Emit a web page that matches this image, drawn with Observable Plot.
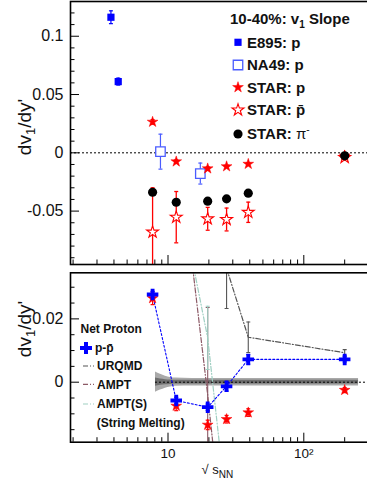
<!DOCTYPE html>
<html><head><meta charset="utf-8">
<script src="https://cdn.jsdelivr.net/npm/d3@7"></script>
<script src="https://cdn.jsdelivr.net/npm/@observablehq/plot@0.6"></script>
<style>
html,body{margin:0;padding:0;overflow:hidden;background:#fff;}
#c{position:relative;width:372px;height:482px;overflow:hidden;}
#c svg{position:absolute;left:0;}
</style>
</head><body><div id="c"></div>
<script>
// ---------- data ----------
const starX = [7.7, 11.5, 19.6, 27, 39, 200];
const e895X = [3.8, 4.3];
const e895Y = [0.1163, 0.0611];
const e895Err = [0.0055, 0.003];
const na49X = [8.8, 17.3];
const na49Y = [0.001, -0.0178];
const na49Err = [0.015, 0.009];
const starPY = [0.0265, -0.0075, -0.0135, -0.0117, -0.0096, -0.0025];
const starPErr = [0.002, 0.0015, 0.0015, 0.0012, 0.0012, 0.0008];
const starPbarY = [-0.068, -0.0552, -0.0566, -0.0572, -0.051, -0.004];
const starPbarErr = [0.038, 0.022, 0.0098, 0.0098, 0.0087, 0.002];
const starPiY = [-0.0338, -0.0424, -0.0415, -0.0395, -0.0346, -0.0026];
const netPY = [0.0277, -0.0058, -0.0079, -0.0013, 0.0072, 0.0072];
const netPErr = [0.001, 0.001, 0.001, 0.0015, 0.0015, 0.0008];
const urqmdX = [27, 39, 200];
const urqmdY = [0.036, 0.0142, 0.0093];
const urqmdErr = [0.0127, 0.0048, 0.001];
const amptX = [11.5, 19.6, 27];
const amptY = [0.08, -0.004, -0.06];
const amptErr = [0, 0.0276, 0];
const amptSY = [0.064, 0.014, -0.040];
const amptSErr = [0, 0.01, 0];
const bandX = [8.09, 8.8, 9.58, 10.43, 11.36, 15, 30, 100, 253];
const bandOuter = [0.0032, 0.0025, 0.0019, 0.0015, 0.0013, 0.0012, 0.0012, 0.0012, 0.0012];
const bandInner = [0.0013, 0.0010, 0.0008, 0.0007, 0.0006, 0.0006, 0.0006, 0.0006, 0.0006];

const xMajor = [10, 100];
const xMajorLabels = ["10", "10\u00B2"];
const xMinor = [2,3,4,5,6,7,8,9,20,30,40,50,60,70,80,90,200];
const yTopMajor = [0.1, 0.05, 0, -0.05];
const yTopLabels = ["0.1", "0.05", "0", "-0.05"];
const yTopMinor = [-0.09,-0.08,-0.07,-0.06,-0.04,-0.03,-0.02,-0.01,0.01,0.02,0.03,0.04,0.06,0.07,0.08,0.09,0.11,0.12];
const yBotMajor = [0.02, 0];
const yBotLabels = ["0.02", "0"];
const yBotMinor = [-0.015,-0.01,-0.005,0.005,0.01,0.015,0.025,0.03];

const topLegendTitle = ["10-40%: v", "1", " Slope"];
const topLegendLabels = ["E895: p", "NA49: p", "STAR: p", "STAR: p\u0304", "STAR: \u03C0"];
const botLegendTitle = "Net Proton";
const botLegendLabels = ["p-p\u0304", "URQMD", "AMPT", "AMPT(S)", "(String Melting)"];

// ---------- styling ----------
const FONT = "'Liberation Sans', Arial, Helvetica, sans-serif";
const BLUE = "#0000ff", NA49C = "#4a5cff", RED = "#ff0000";
const URQ_C = "#555555", AMPT_C = "#8c5a66", AMPTS_C = "#9fcfc2";
const DASHDOT = "5,2,1,2";
const W = 372, ML = 70, MR = 3;
const x10px = 167.5, decade = 135.8;
const xDomain = [10 ** (1 - (x10px - ML) / decade), 10 ** (1 + (W - MR - x10px) / decade)];
const SZ = {sq: 52, osq: 90, star: 36, ostar: 44, circ: 66, cross: 74};
const rOf = s => Math.sqrt(s / Math.PI);
const cap = {draw(ctx) { ctx.moveTo(-2, 0); ctx.lineTo(2, 0); }};

const zip = (xs, ys, es) => xs.map((x, i) => ({x, y: ys[i], e: es ? es[i] : 0}));
const e895 = zip(e895X, e895Y, e895Err);
const na49 = zip(na49X, na49Y, na49Err);
const starP = zip(starX, starPY, starPErr);
const starPbar = zip(starX, starPbarY, starPbarErr);
const starPi = zip(starX, starPiY);
const netP = zip(starX, netPY, netPErr);
const urqmd = zip(urqmdX, urqmdY, urqmdErr);
const ampt = zip(amptX, amptY, amptErr);
const ampts = zip(amptX, amptSY, amptSErr);
const band = bandX.map((x, i) => ({x, o: bandOuter[i], n: bandInner[i]}));

function errMarks(data, color, clip = false, sw = 1.2) {
  const d = data.filter(v => v.e > 0);
  return [
    Plot.ruleX(d, {x: "x", y1: v => v.y - v.e, y2: v => v.y + v.e, stroke: color, strokeWidth: sw, clip}),
    Plot.dot(d, {x: "x", y: v => v.y + v.e, symbol: cap, r: 2, stroke: color, fill: "none", strokeWidth: sw, clip}),
    Plot.dot(d, {x: "x", y: v => v.y - v.e, symbol: cap, r: 2, stroke: color, fill: "none", strokeWidth: sw, clip})
  ];
}
function axisMarks(yMajor, yLabels, yMinor, plotW, plotH, showX) {
  return [
    Plot.tickY(yMinor, {y: d => d, insetRight: plotW - 4.5, strokeWidth: 1}),
    Plot.tickY(yMajor, {y: d => d, insetRight: plotW - 9, strokeWidth: 1}),
    Plot.tickX(xMinor, {x: d => d, insetTop: plotH - 4.5, strokeWidth: 1}),
    Plot.tickX(xMajor, {x: d => d, insetTop: plotH - 9, strokeWidth: 1}),
    Plot.text(yMajor, {y: d => d, text: (d, i) => yLabels[i], frameAnchor: "left", textAnchor: "end", dx: -7, fontSize: 16, fill: "#111"}),
    ...(showX ? [Plot.text(xMajor, {x: d => d, text: (d, i) => xMajorLabels[i], frameAnchor: "bottom", dy: 15.3, fontSize: 13.5, fill: "#111"})] : [])
  ];
}

// ---------- top panel ----------
const TH = 268, TMT = 1, TMB = 4;
const topPlot = Plot.plot({
  width: W, height: TH, marginLeft: ML, marginRight: MR, marginTop: TMT, marginBottom: TMB,
  style: {fontFamily: FONT, background: "transparent", maxWidth: "none", overflow: "visible"},
  x: {type: "log", domain: xDomain, axis: null},
  y: {domain: [-0.0958, 0.1298], axis: null},
  marks: [
    ...axisMarks(yTopMajor, yTopLabels, yTopMinor, W - ML - MR, TH - TMT - TMB, false),
    Plot.ruleY([0], {stroke: "#000", strokeWidth: 1, strokeDasharray: "2,2"}),
    ...errMarks(e895, BLUE),
    ...errMarks(na49, NA49C),
    ...errMarks(starPbar, RED, true, 1.3),
    ...errMarks(starP, RED),
    Plot.dot(e895, {x: "x", y: "y", symbol: "square", r: rOf(SZ.sq), fill: BLUE, stroke: "none"}),
    Plot.dot(na49, {x: "x", y: "y", symbol: "square", r: rOf(SZ.osq), fill: "#fff", stroke: NA49C, strokeWidth: 1.3}),
    Plot.dot(starPbar, {x: "x", y: "y", symbol: "star", r: rOf(SZ.ostar), fill: "#fff", stroke: RED, strokeWidth: 1.1}),
    Plot.dot(starP, {x: "x", y: "y", symbol: "star", r: rOf(SZ.star), fill: RED, stroke: RED, strokeWidth: 0.5}),
    Plot.dot(starPi, {x: "x", y: "y", symbol: "circle", r: rOf(SZ.circ), fill: "#000", stroke: "none"}),
    Plot.frame({stroke: "#000", strokeWidth: 1.6})
  ]
});
topPlot.style.top = "0px";

// ---------- bottom panel ----------
const BH = 214, BMT = 4.3, BMB = 40.3;
const botPlot = Plot.plot({
  width: W, height: BH, marginLeft: ML, marginRight: MR, marginTop: BMT, marginBottom: BMB,
  style: {fontFamily: FONT, background: "transparent", maxWidth: "none", overflow: "visible"},
  x: {type: "log", domain: xDomain, axis: null},
  y: {domain: [-0.01896, 0.03456], axis: null},
  marks: [
    ...axisMarks(yBotMajor, yBotLabels, yBotMinor, W - ML - MR, BH - BMT - BMB, true),
    Plot.areaY(band, {x: "x", y1: d => -d.o, y2: d => d.o, fill: "#a9a9a9", curve: "monotone-x"}),
    Plot.areaY(band, {x: "x", y1: d => -d.n, y2: d => d.n, fill: "#6e6e6e", curve: "monotone-x"}),
    Plot.ruleY([0], {x1: () => bandX[0], x2: () => xDomain[1], stroke: "#000", strokeWidth: 1, strokeDasharray: "2,2"}),
    Plot.line(urqmd, {x: "x", y: "y", stroke: URQ_C, strokeWidth: 1.2, strokeDasharray: DASHDOT, clip: true}),
    ...errMarks(urqmd, URQ_C, true, 1.1),
    Plot.line(ampt, {x: "x", y: "y", stroke: AMPT_C, strokeWidth: 1.2, strokeDasharray: DASHDOT, clip: true}),
    ...errMarks(ampt, AMPT_C, true, 1.1),
    Plot.line(ampts, {x: "x", y: "y", stroke: AMPTS_C, strokeWidth: 1.2, strokeDasharray: DASHDOT, clip: true}),
    ...errMarks(ampts, AMPTS_C, true, 1.1),
    Plot.line(netP, {x: "x", y: "y", stroke: BLUE, strokeWidth: 1.1, strokeDasharray: "2,2"}),
    ...errMarks(starP, RED),
    Plot.dot(starP, {x: "x", y: "y", symbol: "star", r: rOf(SZ.star), fill: RED, stroke: RED, strokeWidth: 0.5}),
    ...errMarks(netP, BLUE),
    Plot.dot(netP, {x: "x", y: "y", symbol: "cross", r: rOf(SZ.cross), fill: BLUE, stroke: "none"}),
    Plot.frame({stroke: "#000", strokeWidth: 1.6})
  ]
});
botPlot.style.top = TH + "px";

const c = document.getElementById("c");
c.appendChild(topPlot);
c.appendChild(botPlot);

// ---------- titles & legends ----------
function yTitle(svg, x, y) {
  const t = d3.select(svg).append("text")
    .attr("transform", `translate(${x},${y}) rotate(-90)`)
    .attr("text-anchor", "middle").attr("font-family", FONT).attr("font-size", 19).attr("fill", "#111");
  t.append("tspan").text("dv");
  t.append("tspan").attr("font-size", 13).attr("dy", 4).text("1");
  t.append("tspan").attr("dy", -4).text("/dy'");
}
yTitle(topPlot, 31, 127);
yTitle(botPlot, 31, 61);

// x title
{
  const t = d3.select(botPlot).append("text").attr("x", 201.5).attr("y", 206).attr("text-anchor", "start")
    .attr("font-family", FONT).attr("font-size", 13).attr("fill", "#111");
  t.append("tspan").text("\u221A s");
  t.append("tspan").attr("font-size", 10).attr("dy", 3.5).text("NN");
}

// top legend
{
  const g = d3.select(topPlot).append("g").attr("font-family", FONT).attr("font-weight", "bold")
    .attr("font-size", 15).attr("fill", "#111").attr("text-anchor", "start");
  const t = g.append("text").attr("x", 230).attr("y", 23.5);
  t.append("tspan").text(topLegendTitle[0]);
  t.append("tspan").attr("font-size", 10).attr("dy", 4).text(topLegendTitle[1]);
  t.append("tspan").attr("dy", -4).text(topLegendTitle[2]);
  const ys = [42.3, 65, 87.3, 110, 134];
  const mk = [
    {type: d3.symbolSquare, size: SZ.sq, fill: BLUE, stroke: "none"},
    {type: d3.symbolSquare, size: SZ.osq, fill: "#fff", stroke: NA49C, sw: 1.3},
    {type: d3.symbolStar, size: SZ.star, fill: RED, stroke: RED, sw: 0.5},
    {type: d3.symbolStar, size: SZ.ostar, fill: "#fff", stroke: RED, sw: 1.1},
    {type: d3.symbolCircle, size: SZ.circ, fill: "#000", stroke: "none"}
  ];
  topLegendLabels.forEach((lab, i) => {
    const m = mk[i];
    g.append("path").attr("d", d3.symbol(m.type, m.size)()).attr("transform", `translate(238,${ys[i]})`)
      .attr("fill", m.fill).attr("stroke", m.stroke).attr("stroke-width", m.sw || 0);
    const tx = g.append("text").attr("x", 247).attr("y", ys[i] + 5.4);
    if (i === 4) {
      tx.append("tspan").text("STAR: ");
      tx.append("tspan").attr("font-weight", "normal").text("\u03C0");
      tx.append("tspan").attr("font-size", 10).attr("dy", -6).attr("font-weight", "normal").text("-");
    } else {
      tx.text(lab);
    }
  });
}

// bottom legend
{
  const g = d3.select(botPlot).append("g").attr("font-family", FONT).attr("font-weight", "bold")
    .attr("font-size", 12).attr("fill", "#111").attr("text-anchor", "start");
  g.append("text").attr("x", 80.5).attr("y", 65.3).text(botLegendTitle);
  g.append("path").attr("d", d3.symbol(d3.symbolCross, 80)()).attr("transform", "translate(86,80)").attr("fill", BLUE);
  g.append("text").attr("x", 95).attr("y", 84.3).text(botLegendLabels[0]);
  const ly = [98, 116.3, 136];
  const lc = [URQ_C, AMPT_C, AMPTS_C];
  ly.forEach((y, i) => {
    g.append("line").attr("x1", 83).attr("x2", 94).attr("y1", y).attr("y2", y)
      .attr("stroke", lc[i]).attr("stroke-width", 1.2).attr("stroke-dasharray", DASHDOT);
    g.append("text").attr("x", 97).attr("y", y + 4.3).text(botLegendLabels[i + 1]);
  });
  g.append("text").attr("x", 96.7).attr("y", 158.6).text(botLegendLabels[4]);
}
</script>
</body></html>
